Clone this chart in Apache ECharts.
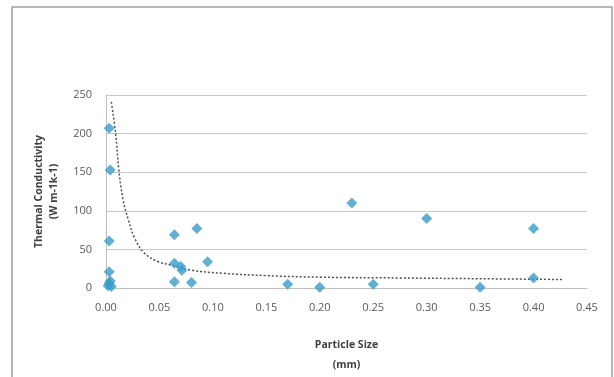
<!DOCTYPE html>
<html>
<head>
<meta charset="utf-8">
<script src="https://cdn.jsdelivr.net/npm/echarts@6/dist/echarts.min.js"></script>
<style>
  html, body { margin: 0; padding: 0; background: #fff; }
  #chart { width: 614px; height: 377px; }
</style>
</head>
<body>
<div id="chart"></div>
<script>
// measured points: [particle size mm, thermal conductivity]
const points = [
  [0.003, 207], [0.004, 153], [0.003, 61], [0.003, 21], [0.003, 6],
  [0.002, 3], [0.004, 9], [0.005, 2],
  [0.064, 69], [0.085, 77], [0.064, 32], [0.070, 28], [0.071, 23],
  [0.095, 34], [0.064, 8], [0.080, 7],
  [0.17, 5], [0.20, 1], [0.23, 110], [0.25, 5], [0.30, 90],
  [0.35, 1], [0.40, 13], [0.40, 77]
]
// dotted trend line
const trend = [
  [0.005, 241], [0.009, 200], [0.012, 153], [0.016, 114], [0.021, 88],
  [0.027, 64], [0.036, 45], [0.049, 34], [0.060, 30], [0.080, 23],
  [0.110, 19], [0.150, 16], [0.200, 14], [0.275, 13], [0.350, 12], [0.428, 11]
]
const yTicks = [0, 50, 100, 150, 200, 250]

const font = 'Open Sans'
const chart = echarts.init(document.getElementById('chart'))
chart.setOption({
  animation: false,
  graphic: [{
    type: 'rect',
    shape: { x: 12, y: 7, width: 600, height: 380 },
    style: { fill: 'none', stroke: '#a0a0a0', lineWidth: 1.5 },
    silent: true
  }],
  grid: { left: 106, right: 27, top: 95, bottom: 89, outerBoundsMode: 'none' },
  xAxis: {
    type: 'value',
    min: 0,
    max: 0.45,
    interval: 0.05,
    name: 'Particle Size\n(mm)',
    nameLocation: 'middle',
    nameGap: 47,
    nameTextStyle: { fontFamily: font, fontSize: 10.5, fontWeight: 'bold', color: '#404040', lineHeight: 20 },
    axisLine: { show: true, lineStyle: { color: '#bfbfbf' } },
    axisTick: { show: false },
    splitLine: { show: false },
    axisLabel: {
      color: '#595959', fontFamily: font, fontSize: 11, margin: 14,
      formatter: v => v.toFixed(2)
    }
  },
  yAxis: {
    type: 'value',
    min: yTicks[0],
    max: yTicks[yTicks.length - 1],
    interval: 50,
    name: 'Thermal Conductivity\n(W m-1k-1)',
    nameLocation: 'middle',
    nameGap: 44,
    nameTextStyle: { fontFamily: font, fontSize: 10.5, fontWeight: 'bold', color: '#404040', lineHeight: 15 },
    axisLine: { show: true, lineStyle: { color: '#bfbfbf' } },
    axisTick: { show: false },
    splitLine: { lineStyle: { color: '#c8c8c8' } },
    axisLabel: { color: '#595959', fontFamily: font, fontSize: 11, margin: 14 }
  },
  series: [
    {
      type: 'line',
      data: trend,
      smooth: 0.4,
      symbol: 'none',
      silent: true,
      lineStyle: { color: '#505050', width: 1.5, type: [2, 2] },
      z: 1
    },
    {
      type: 'scatter',
      data: points,
      symbol: 'diamond',
      symbolSize: 11,
      itemStyle: { color: '#3a9cc9' },
      z: 3
    }
  ]
})
</script>
</body>
</html>
